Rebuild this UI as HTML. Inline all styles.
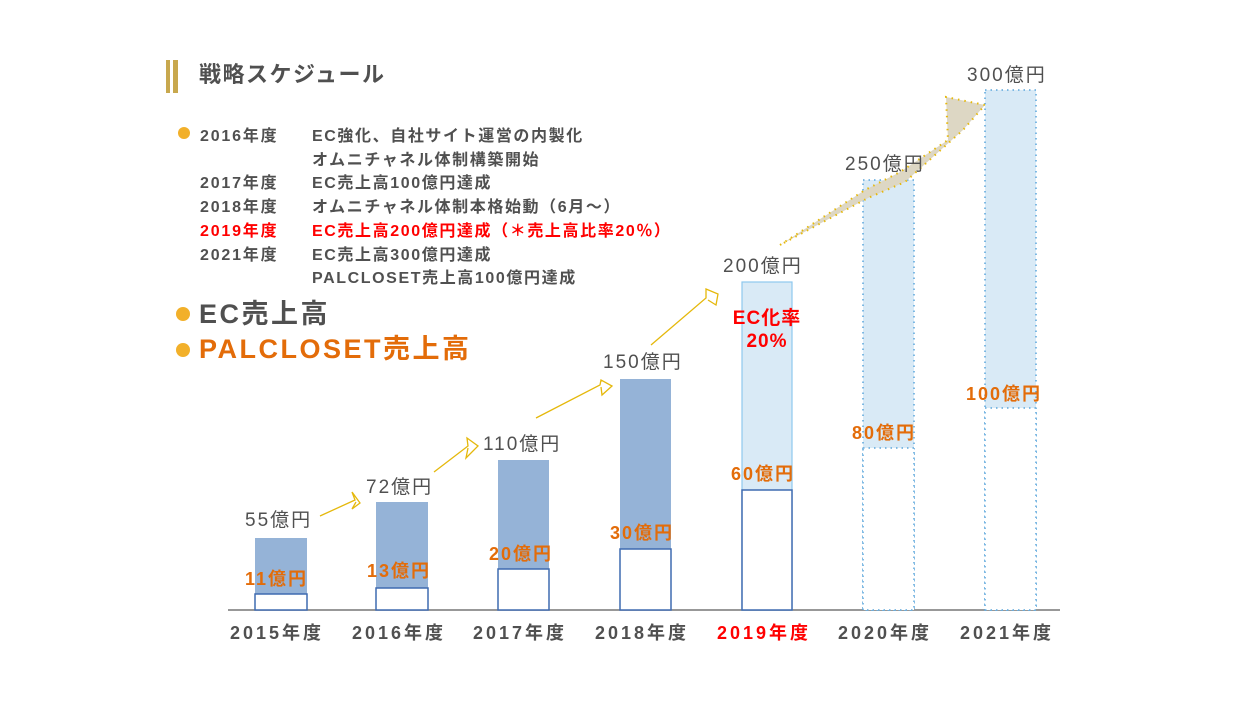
<!DOCTYPE html>
<html><head><meta charset="utf-8"><style>
body{margin:0;width:1248px;height:702px;background:#fff;overflow:hidden;position:relative;font-family:"Liberation Sans","Noto Sans CJK JP",sans-serif}
.t{position:absolute;white-space:nowrap;line-height:1}
.g{color:#505050}.o{color:#e36c09;font-weight:bold}.r{color:#ff0000}
.lb{letter-spacing:2px}
</style></head><body>
<svg width="1248" height="702" style="position:absolute;left:0;top:0">
<rect x="166" y="60" width="4" height="33" fill="#c8a84e"/><rect x="173" y="60" width="5" height="33" fill="#c8a84e"/>
<circle cx="184" cy="133" r="6" fill="#f2b02a"/>
<circle cx="183" cy="314" r="7" fill="#f2b02a"/>
<circle cx="183" cy="350" r="7" fill="#f2b02a"/>
<line x1="228" y1="610" x2="1060" y2="610" stroke="#777" stroke-width="1.5"/>
<g fill="#95b3d7">
<rect x="255" y="538" width="52" height="72"/><rect x="376" y="502" width="52" height="108"/>
<rect x="498" y="460" width="51" height="150"/><rect x="620" y="379" width="51" height="231"/></g>
<rect x="742" y="282" width="50" height="328" fill="#d9eaf6" stroke="#8ec8ee" stroke-width="1.2"/>
<rect x="863" y="180" width="51" height="430" fill="#d9eaf6" stroke="#5ba6dc" stroke-width="1.5" stroke-dasharray="1.5,4"/>
<rect x="985" y="90" width="51" height="520" fill="#d9eaf6" stroke="#5ba6dc" stroke-width="1.5" stroke-dasharray="1.5,4"/>
<g fill="#fff" stroke="#3f6bb0" stroke-width="1.5">
<rect x="255" y="594" width="52" height="16"/><rect x="376" y="588" width="52" height="22"/>
<rect x="498" y="569" width="51" height="41"/><rect x="620" y="549" width="51" height="61"/>
<rect x="742" y="490" width="50" height="120"/></g>
<g fill="#fff" stroke="#5ba6dc" stroke-width="1.5" stroke-dasharray="1.5,4">
<rect x="863" y="448" width="51" height="162"/><rect x="985" y="408" width="51" height="202"/></g>
<g fill="none" stroke="#e5b80b" stroke-width="1.3">
<path d="M320 516 L355 500 L352 492 L360 503 L352 509 L356 502"/>
<path d="M434 472 L468 446 L467 438 L478 446 L466 458 L468 448"/>
<path d="M536 418 L600 385 L601 380 L612 386 L602 395 L601 387"/>
<path d="M651 345 L706 298 L706 289 L718 294 L716 305 L708 300"/>
</g>
<path d="M780 245 L865 190 L900 172 L948 140 L946 97 L985 105 L963 130 L905 182 L868 198 Z" fill="#ddd7c4" stroke="#e5b80b" stroke-width="2" stroke-dasharray="1.5,5"/>
</svg>
<div class="t g" style="left:199px;top:64px;font-size:22px;font-weight:bold;letter-spacing:1.5px">戦略スケジュール</div>
<div class="t g" style="left:200px;top:125px;font-size:16px;line-height:23.7px;letter-spacing:1.8px;font-weight:bold">2016年度<br><br>2017年度<br>2018年度<br><span class="r">2019年度</span><br>2021年度</div>
<div class="t g" style="left:312px;top:125px;font-size:16px;line-height:23.7px;letter-spacing:1.6px;font-weight:bold">EC強化、自社サイト運営の内製化<br>オムニチャネル体制構築開始<br>EC売上高100億円達成<br>オムニチャネル体制本格始動（6月～）<br><span class="r">EC売上高200億円達成（＊売上高比率20％）</span><br>EC売上高300億円達成<br>PALCLOSET売上高100億円達成</div>
<div class="t g" style="left:199px;top:301px;font-size:27px;font-weight:bold;letter-spacing:2.5px">EC売上高</div>
<div class="t o" style="left:199px;top:336px;font-size:27px;letter-spacing:2.5px">PALCLOSET売上高</div>
<div class="t g lb" style="left:245px;top:511px;font-size:19px">55億円</div>
<div class="t g lb" style="left:366px;top:478px;font-size:19px">72億円</div>
<div class="t g lb" style="left:483px;top:435px;font-size:19px">110億円</div>
<div class="t g lb" style="left:603px;top:353px;font-size:19px">150億円</div>
<div class="t g lb" style="left:723px;top:257px;font-size:19px">200億円</div>
<div class="t g lb" style="left:845px;top:155px;font-size:19px">250億円</div>
<div class="t g lb" style="left:967px;top:66px;font-size:19px">300億円</div>
<div class="t o lb" style="left:245px;top:570px;font-size:18px">11億円</div>
<div class="t o lb" style="left:367px;top:562px;font-size:18px">13億円</div>
<div class="t o lb" style="left:489px;top:545px;font-size:18px">20億円</div>
<div class="t o lb" style="left:610px;top:524px;font-size:18px">30億円</div>
<div class="t o lb" style="left:731px;top:465px;font-size:18px">60億円</div>
<div class="t o lb" style="left:852px;top:424px;font-size:18px">80億円</div>
<div class="t o lb" style="left:966px;top:385px;font-size:18px">100億円</div>
<div class="t r" style="left:724px;top:307px;font-size:19px;font-weight:bold;text-align:center;width:86px;line-height:23px;letter-spacing:1px">EC化率<br>20%</div>
<div class="t g" style="left:230px;top:624px;font-size:18px;font-weight:bold;letter-spacing:3px">2015年度</div>
<div class="t g" style="left:352px;top:624px;font-size:18px;font-weight:bold;letter-spacing:3px">2016年度</div>
<div class="t g" style="left:473px;top:624px;font-size:18px;font-weight:bold;letter-spacing:3px">2017年度</div>
<div class="t g" style="left:595px;top:624px;font-size:18px;font-weight:bold;letter-spacing:3px">2018年度</div>
<div class="t r" style="left:717px;top:624px;font-size:18px;font-weight:bold;letter-spacing:3px">2019年度</div>
<div class="t g" style="left:838px;top:624px;font-size:18px;font-weight:bold;letter-spacing:3px">2020年度</div>
<div class="t g" style="left:960px;top:624px;font-size:18px;font-weight:bold;letter-spacing:3px">2021年度</div>
</body></html>
